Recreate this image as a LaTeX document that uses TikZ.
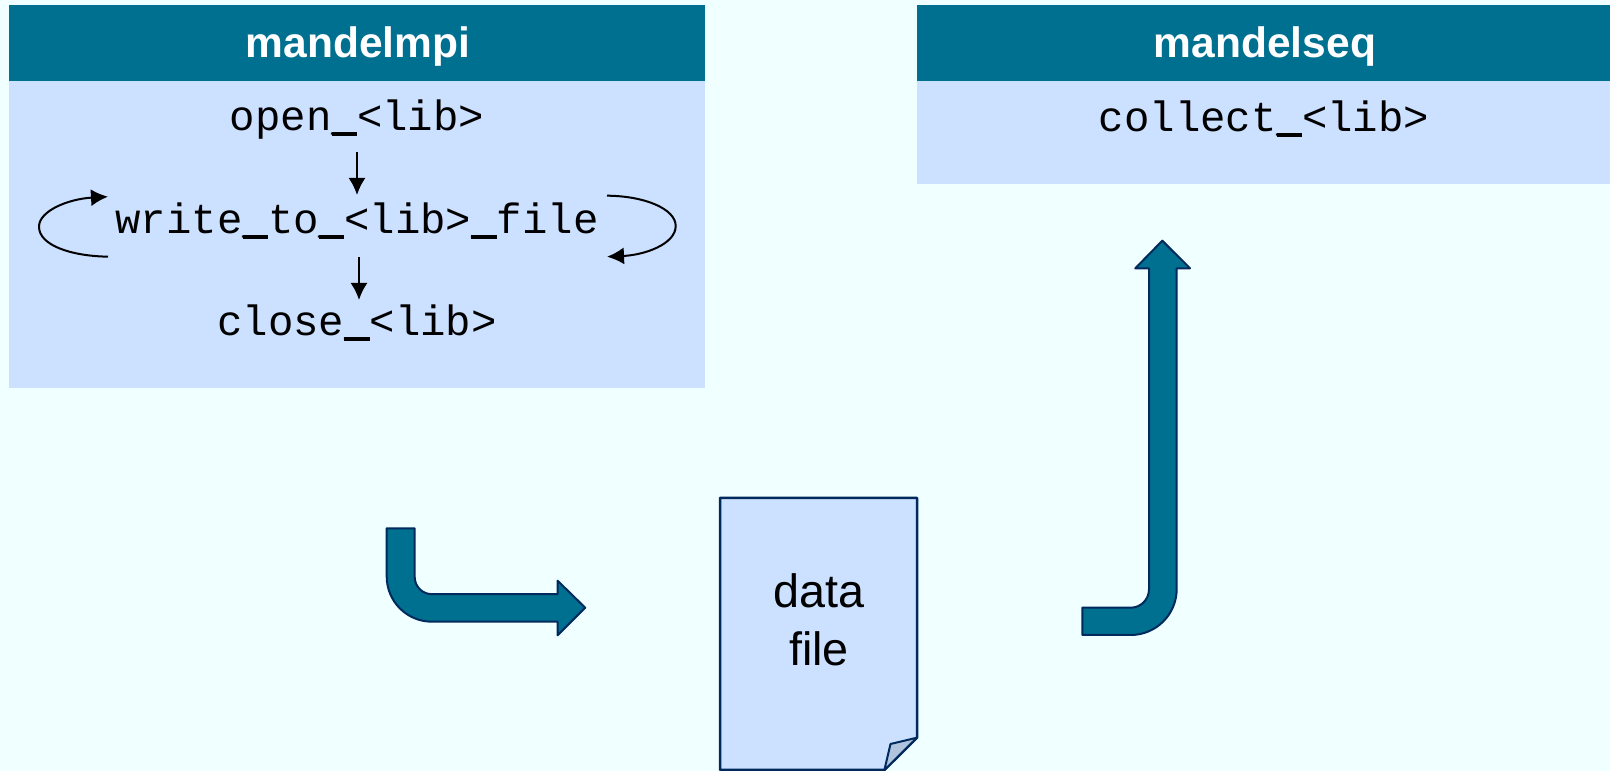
\documentclass[tikz,border=0pt]{standalone}
\usepackage{xcolor}
\usepackage{fontspec}
\setmainfont{Liberation Sans}
\setmonofont{Liberation Mono}
\usepackage{tikz}
\usetikzlibrary{positioning,arrows.meta,calc}
\definecolor{pagebg}{RGB}{240,255,255}
\definecolor{titlebg}{RGB}{0,112,145}
\definecolor{panelbg}{RGB}{204,224,255}
\definecolor{navyline}{RGB}{0,42,92}
\definecolor{foldbg}{RGB}{176,196,222}
\newcommand{\us}{\_\llap{\rule[-.135em]{.6em}{.09em}}}
\tikzset{
    titletext/.style={font=\fontsize{12.1}{14}\selectfont\bfseries, text=white, anchor=base},
    calltext/.style={font=\fontsize{12.05}{14}\selectfont\ttfamily, anchor=base,
        text height=.355cm, text depth=.175cm, inner xsep=0pt, inner ysep=.01cm},
    callflow/.style={-{Latex[length=.17cm,width=.17cm]}, line width=.02cm},
    bigarrow/.style={fill=titlebg, draw=navyline, line width=.02cm, line join=round}
}

\begin{document}
\begin{tikzpicture}[scale=1]
    \useasboundingbox (0,0) rectangle (16.10,7.71);
    \fill[pagebg] (0,0) rectangle (16.10,7.71);

    % Panels
    \fill[panelbg] (.09,6.90) rectangle (7.05,3.83);
    \fill[titlebg] (.09,7.66) rectangle (7.05,6.90);
    \fill[panelbg] (9.17,6.90) rectangle (16.10,5.87);
    \fill[titlebg] (9.17,7.66) rectangle (16.10,6.90);

    % Panel titles
    \node[titletext] (mpititle) at (3.58,7.135) {mandelmpi};
    \node[titletext] (seqtitle) at (12.65,7.135) {mandelseq};

    % Calls
    \node[calltext] (open) at (3.57,6.405) {open\us<lib>};
    \node[calltext] (write) at (3.57,5.378) {write\us to\us<lib>\us file};
    \node[calltext] (close) at (3.57,4.358) {close\us<lib>};
    \node[calltext] (collect) at (12.64,6.395) {collect\us<lib>};

    % Call order
    \draw[callflow, shorten <=.02cm, shorten >=.01cm] (open.south) -- (write.north);
    \draw[callflow, shorten <=.05cm, shorten >=-.02cm] ([xshift=.02cm]write.south) -- ([xshift=.02cm]close.north);

    % Loops round the write call
    \coordinate (leftin) at (1.08,5.143);
    \coordinate (leftout) at (1.08,5.743);
    \coordinate (rightin) at (6.07,5.753);
    \coordinate (rightout) at (6.07,5.143);
    \draw[callflow] (leftin) .. controls (.70,5.15) and (.39,5.26) .. (.39,5.443)
        .. controls (.39,5.60) and (.68,5.72) .. (leftout);
    \draw[callflow] (rightin) .. controls (6.45,5.75) and (6.757,5.62) .. (6.757,5.45)
        .. controls (6.757,5.27) and (6.45,5.16) .. (rightout);

    % Data file
    \draw[fill=panelbg, draw=navyline, line width=.025cm, line join=round]
        (7.20,2.73) -- (9.17,2.73) -- (9.17,.333) -- (8.844,.01) -- (7.20,.01) -- cycle;
    \draw[fill=foldbg, draw=navyline, line width=.02cm, line join=round]
        (9.17,.333) -- (8.905,.27) -- (8.844,.01) -- cycle;
    \node[font=\fontsize{13.3}{16.4}\selectfont, align=center] (datafile) at (8.19,1.51) {data\\file};

    % Arrow into the file
    \draw[bigarrow] (4.147,2.427) -- (4.147,1.94) arc[start angle=180, end angle=270, radius=.172]
        -- (5.576,1.768) -- (5.576,1.903) -- (5.852,1.633) -- (5.576,1.357) -- (5.576,1.493)
        -- (4.319,1.493) arc[start angle=270, end angle=180, radius=.452] -- (3.867,2.427) -- cycle;

    % Arrow out of the file
    \draw[bigarrow] (10.823,1.633) -- (10.823,1.36) -- (11.307,1.36)
        arc[start angle=-90, end angle=0, radius=.46] -- (11.767,5.027) -- (11.90,5.027)
        -- (11.623,5.303) -- (11.353,5.027) -- (11.49,5.027) -- (11.49,1.816)
        arc[start angle=0, end angle=-90, radius=.183] -- cycle;
\end{tikzpicture}
\end{document}
